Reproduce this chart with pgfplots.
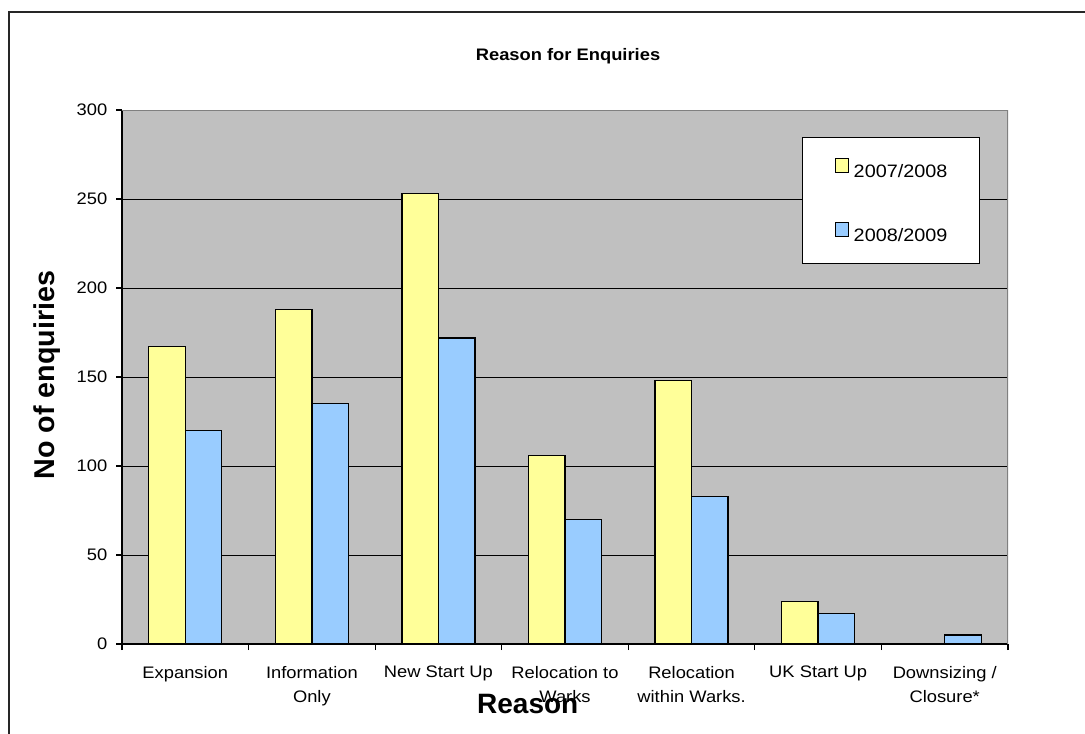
\documentclass[border=0pt]{standalone}
\usepackage{pgfplots}
\pgfplotsset{compat=1.18}
\usepackage{fontspec}
\setmainfont{Liberation Sans}[FakeStretch=1.1]
\newfontfamily\labelfont{Liberation Sans}
\definecolor{plotbg}{HTML}{C0C0C0}
\definecolor{yelbar}{HTML}{FFFF99}
\definecolor{blubar}{HTML}{99CCFF}
\begin{document}
\begin{tikzpicture}
\path[use as bounding box] (0pt,0pt) rectangle (813.75pt,-549.75pt);
\draw[line width=1.4pt, color=black!85] (6.75pt,-570pt) -- (6.75pt,-9pt) -- (830pt,-9pt);
\begin{axis}[
  at={(91.5pt,-483pt)}, anchor=south west,
  scale only axis, width=664.5pt, height=400.5pt,
  ybar=0pt, bar width=27.375pt,
  xmin=-0.5, xmax=6.5, ymin=0, ymax=300,
  axis background/.style={fill=plotbg},
  axis x line*=bottom, axis y line*=left,
  axis line style={black, line width=0.9pt},
  xtick={0,...,6},
  xticklabels={Expansion,{Information\\Only},New Start Up,{Relocation to\\Warks},{Relocation\\within Warks.},UK Start Up,{Downsizing /\\Closure*}},
  major x tick style={draw=none},
  minor xtick={-0.5,0.5,...,6.5},
  minor x tick style={black, line width=0.8pt},
  minor tick length=4.5pt,
  ytick={0,50,...,300},
  major tick length=4.5pt,
  tick align=outside,
  y tick style={black, line width=0.8pt},
  ymajorgrids, major grid style={black, line width=0.6pt},
  /pgf/number format/assume math mode=true,
  yticklabel style={font=\fontsize{12.5}{14}\selectfont, xshift=-3pt},
  xticklabel style={font=\fontsize{12.5}{18}\selectfont, align=center, yshift=-8.5pt},
  title={\textbf{Reason for Enquiries}},
  title style={font=\fontsize{12.5}{14}\selectfont, at={(axis description cs:0.5034,1.0862)}, anchor=center},
  xlabel={Reason},
  xlabel style={font=\labelfont\bfseries\fontsize{21}{23}\selectfont, at={(axis description cs:0.458,-0.1124)}, anchor=center},
  ylabel={No of enquiries},
  ylabel style={font=\labelfont\bfseries\fontsize{21.5}{23}\selectfont, at={(axis description cs:-0.0845,0.504)}, anchor=center, rotate=0},
  legend style={at={(rel axis cs:0.7675,0.9494)}, anchor=north west, draw=black, fill=white, line width=0.8pt,
    font=\fontsize{13.5}{16}\selectfont, inner xsep=24pt, inner ysep=15.5pt, row sep=32.5pt,
    nodes={inner sep=0pt}},
  legend cell align=left,
  legend image code/.code={\draw[#1, line width=0.8pt] (0pt,-0.4pt) rectangle (9.75pt,9.6pt); \path (13.5pt,0pt);},
]
\draw[color=gray, line width=0.8pt] (rel axis cs:0,1) -- (rel axis cs:1,1) -- (rel axis cs:1,0);
\addplot[draw=black, line width=1pt, fill=yelbar] coordinates {(0,167) (1,188) (2,253) (3,106) (4,148) (5,24) (6,0)};
\addlegendentry{2007/2008}
\addplot[draw=black, line width=1pt, fill=blubar] coordinates {(0,120) (1,135) (2,172) (3,70) (4,83) (5,17) (6,5)};
\addlegendentry{2008/2009}
\end{axis}
\end{tikzpicture}
\end{document}
